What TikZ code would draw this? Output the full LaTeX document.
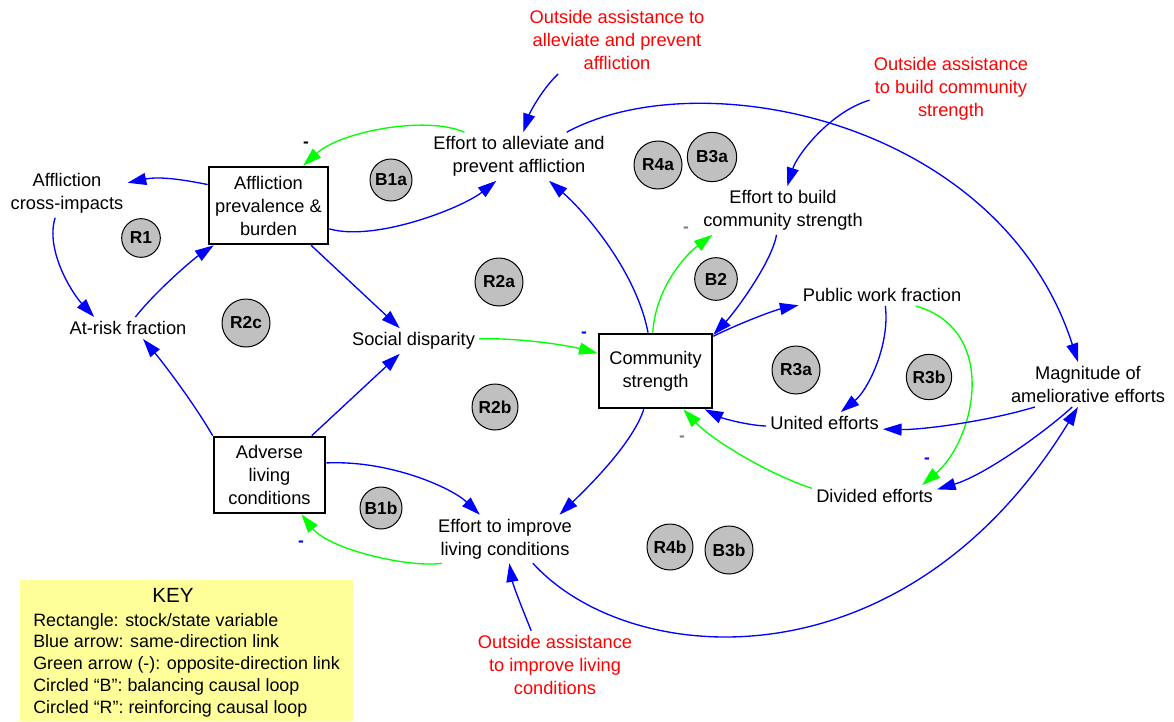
\documentclass[tikz,border=0pt]{standalone}
\usepackage{fontspec}
\setmainfont{Liberation Sans}
\usetikzlibrary{arrows.meta}
\definecolor{lgreen}{HTML}{00FF00}
\definecolor{pblue}{HTML}{0000FF}
\definecolor{pred}{HTML}{FF0000}
\definecolor{loopgray}{HTML}{C0C0C0}
\definecolor{keyyellow}{HTML}{FFFF99}
\definecolor{signgray}{HTML}{808080}
\newcommand{\fsz}{\fontsize{13.7}{17.25}\selectfont}
\newcommand{\bfsz}{\fontsize{13}{15}\selectfont\bfseries}
\newcommand{\ksz}{\fontsize{13.4}{16.5}\selectfont}
\newcommand{\ktsz}{\fontsize{15.4}{18}\selectfont}
\begin{document}
\begin{tikzpicture}[x=0.75pt,y=-0.75pt,
  lbl/.style={font=\fsz, align=center, inner sep=3pt},
  ext/.style={lbl, text=pred},
  stock/.style={draw, line width=2pt, align=center, font=\fsz, inner sep=0pt},
  loopc/.style={circle, draw, fill=loopgray, line width=0.75pt, font=\bfsz, inner sep=0pt, minimum size=#1},
  samelink/.style={draw=pblue, line width=1pt, -{Triangle[length=14pt,width=9pt]}},
  opplink/.style={draw=lgreen, line width=1pt, -{Triangle[length=14pt,width=9pt]}},
  sgn/.style={font=\bfsz, inner sep=0pt},
  keyline/.style={font=\ksz, anchor=base west, inner sep=0pt},
]
\useasboundingbox (0,0) rectangle (1174,721);

% key
\node[fill=keyyellow, minimum width=249.75pt, minimum height=105.75pt, inner sep=0pt] (keybox) at (186.5,650.5) {};
\node[font=\ktsz, inner sep=0pt] (keytitle) at (173,595) {KEY};
\node[keyline] (k1) at (33,626.4) {Rectangle: stock/state variable};
\node[keyline] (k2) at (33,647.4) {Blue arrow: same-direction link};
\node[keyline] (k3) at (33,669.4) {Green arrow (-): opposite-direction link};
\node[keyline] (k4) at (33,691.4) {Circled “B”: balancing causal loop};
\node[keyline] (k5) at (33,713.4) {Circled “R”: reinforcing causal loop};

% stocks
\node[stock, minimum width=89.25pt, minimum height=57.75pt] (aff) at (268.5,205.5) {Affliction\\prevalence \&\\burden};
\node[stock, minimum width=84.75pt, minimum height=55.5pt] (comm) at (655.5,371) {Community\\strength};
\node[stock, minimum width=83.25pt, minimum height=57pt] (adverse) at (269.5,475) {Adverse\\living\\conditions};

% variables
\node[lbl] (cross) at (67,193.5) {Affliction\\cross-impacts};
\node[lbl] (atrisk) at (128,328) {At-risk fraction};
\node[lbl] (social) at (413.5,341) {Social disparity};
\node[lbl] (effalle) at (519,156.5) {Effort to alleviate and\\prevent affliction};
\node[lbl] (effbuild) at (783,210.5) {Effort to build\\community strength};
\node[lbl] (public) at (882,295) {Public work fraction};
\node[lbl] (united) at (824.5,423) {United efforts};
\node[lbl] (divided) at (874.5,496) {Divided efforts};
\node[lbl] (magn) at (1088,384.5) {Magnitude of\\ameliorative efforts};
\node[lbl] (effimp) at (505,539) {Effort to improve\\living conditions};

% outside assistance
\node[ext] (outalle) at (617,40) {Outside assistance to\\alleviate and prevent\\affliction};
\node[ext] (outbuild) at (951,88.7) {Outside assistance\\to build community\\strength};
\node[ext] (outimp) at (555,664.7) {Outside assistance\\to improve living\\conditions};

% loops
\node[loopc=29pt] (R1) at (141,238) {R1};
\node[loopc=36pt] (R2c) at (246,323) {R2c};
\node[loopc=31.5pt] (B1a) at (391,180) {B1a};
\node[loopc=36pt] (R4a) at (658,165) {R4a};
\node[loopc=37pt] (B3a) at (712,157) {B3a};
\node[loopc=36pt] (R2a) at (499,282) {R2a};
\node[loopc=34.5pt] (R2b) at (495,407) {R2b};
\node[loopc=32pt] (B2) at (716,279) {B2};
\node[loopc=36pt] (R3a) at (796,370) {R3a};
\node[loopc=34pt] (R3b) at (929,377) {R3b};
\node[loopc=31.5pt] (B1b) at (381,508) {B1b};
\node[loopc=34.5pt] (R4b) at (670,547) {R4b};
\node[loopc=36pt] (B3b) at (729,550) {B3b};

% signs
\node[sgn] (m1) at (306,145) {-};
\node[sgn, text=signgray] (m2) at (686,230) {-};
\node[sgn, text=pblue] (m3) at (584,335) {-};
\node[sgn, text=signgray] (m4) at (682,439) {-};
\node[sgn, text=pblue] (m5) at (927,461) {-};
\node[sgn, text=pblue] (m6) at (301,544) {-};

% links
\draw[samelink] (aff.161) .. controls (185,180) and (160,176) .. (cross.10);
\draw[samelink] (cross.244) .. controls (45,250) and (72,293) .. (atrisk.162);
\draw[samelink] (atrisk.56) .. controls (155,292) and (192,260) .. (aff.216);
\draw[samelink] (adverse.north west) .. controls (195,405) and (165,365) .. (atrisk.-36);
\draw[samelink] (adverse) -- (social);
\draw[samelink] (aff) -- (social);
\draw[samelink] (aff.-21) .. controls (375,242) and (462,208) .. (effalle.227);
\draw[opplink] (effalle.156) .. controls (425,115) and (340,132) .. (aff.49);
\draw[samelink] (outalle.210) .. controls (543,88) and (530,112) .. (effalle.80);
\draw[samelink] (effalle.27) .. controls (700,60) and (1000,120) .. (magn.114);
\draw[samelink] (comm.101) .. controls (636,270) and (583,210) .. (effalle.-39);
\draw[opplink] (comm.94) .. controls (655,290) and (684,256) .. (effbuild.199);
\draw[samelink] (outbuild.188) .. controls (830,112) and (797,155) .. (effbuild.80);
\draw[samelink] (effbuild.255) .. controls (772,262) and (735,312) .. (comm.32);
\draw[opplink] (social.2) .. controls (525,338) and (570,346) .. (comm.163);
\draw[samelink] (comm.31) .. controls (740,323) and (775,310) .. (public.187);
\draw[samelink] (public.287) .. controls (890,345) and (868,390) .. (united.34);
\draw[opplink] (public.-18) .. controls (1000,330) and (975,440) .. (divided.13);
\draw[samelink] (magn.203) .. controls (985,422) and (920,430) .. (united.-6);
\draw[samelink] (united.183) .. controls (745,425) and (722,418) .. (comm.-38);
\draw[opplink] (divided.173) .. controls (770,475) and (712,440) .. (comm.-54);
\draw[samelink] (magn.235) .. controls (1045,432) and (985,475) .. (divided.6);
\draw[samelink] (effimp.-41) .. controls (630,670) and (905,690) .. (magn.246);
\draw[samelink] (comm.253) .. controls (632,445) and (585,490) .. (effimp.24);
\draw[samelink] (adverse.12) .. controls (390,460) and (452,488) .. (effimp.136);
\draw[opplink] (effimp.201) .. controls (410,568) and (330,550) .. (adverse.-51);
\draw[samelink] (outimp.125) .. controls (522,608) and (513,585) .. (effimp.-80);
\end{tikzpicture}
\end{document}
